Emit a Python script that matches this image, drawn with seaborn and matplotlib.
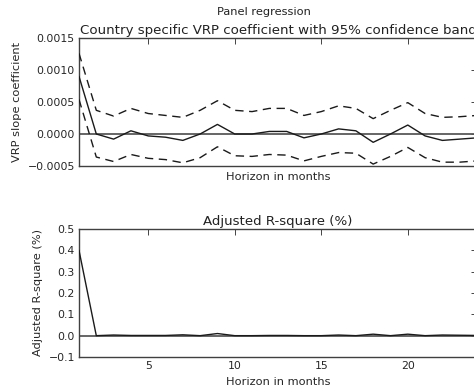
import numpy as np
import pandas as pd
import matplotlib
matplotlib.use("Agg")
import matplotlib.pyplot as plt
import seaborn as sns

horizon = list(range(1, 25))
coef = [0.00090, 0.00000, -0.00008, 0.00005, -0.00003, -0.00005, -0.00010, 0.00000,
        0.00015, 0.00000, 0.00000, 0.00004, 0.00004, -0.00006, 0.00000, 0.00008,
        0.00005, -0.00013, 0.00000, 0.00014, -0.00003, -0.00010, -0.00008, -0.00006]
upper = [0.00126, 0.00037, 0.00028, 0.00040, 0.00032, 0.00029, 0.00026, 0.00037,
         0.00052, 0.00037, 0.00035, 0.00040, 0.00040, 0.00029, 0.00035, 0.00044,
         0.00040, 0.00024, 0.00037, 0.00049, 0.00032, 0.00026, 0.00027, 0.00029]
lower = [0.00054, -0.00036, -0.00043, -0.00032, -0.00038, -0.00040, -0.00045, -0.00037,
         -0.00020, -0.00034, -0.00035, -0.00032, -0.00033, -0.00042, -0.00035, -0.00029,
         -0.00030, -0.00047, -0.00035, -0.00021, -0.00037, -0.00044, -0.00044, -0.00042]
rsq = [0.40, 0.000, 0.003, 0.001, 0.001, 0.001, 0.004, 0.000,
       0.010, 0.000, 0.000, 0.001, 0.001, 0.000, 0.000, 0.003,
       0.000, 0.007, 0.000, 0.007, 0.000, 0.003, 0.002, 0.001]

top_yticks = [-0.0005, 0.0, 0.0005, 0.0010, 0.0015]
top_yticklabels = ["\u22120.0005", "0.0000", "0.0005", "0.0010", "0.0015"]
bot_yticks = [-0.1, 0.0, 0.1, 0.2, 0.3, 0.4, 0.5]
bot_yticklabels = ["\u22120.1", "0.0", "0.1", "0.2", "0.3", "0.4", "0.5"]
xticks = [5, 10, 15, 20]

sns.set_theme(style="white")
plt.rcParams["font.family"] = ["DejaVu Sans"]
plt.rcParams["text.color"] = "#222222"

df = pd.DataFrame({"h": horizon, "coef": coef, "upper": upper, "lower": lower, "rsq": rsq})

fig = plt.figure(figsize=(4.74, 3.92), dpi=100)
W, H = 474.0, 392.0
ax1 = fig.add_axes([79 / W, 1 - 166 / H, (477 - 79) / W, 128 / H])
ax2 = fig.add_axes([79 / W, 1 - 357 / H, (477 - 79) / W, 128 / H])

for ax in (ax1, ax2):
    ax.axhline(0, color="0.35", lw=1.3, zorder=1)

sns.lineplot(data=df, x="h", y="coef", ax=ax1, color="k", lw=1.0, zorder=3)
for col in ("upper", "lower"):
    sns.lineplot(data=df, x="h", y=col, ax=ax1, color="k", lw=1.0, zorder=3)
for line in ax1.lines[-2:]:
    line.set_dashes((6, 4))

sns.lineplot(data=df, x="h", y="rsq", ax=ax2, color="k", lw=1.0, zorder=3)

tick_fs = 7.8
for ax in (ax1, ax2):
    ax.set_xlim(1, 24)
    ax.set_xticks(xticks)
    ax.tick_params(direction="in", top=True, right=True, length=4, width=0.6,
                   labelsize=tick_fs, colors="0.15", pad=3)
    for s in ax.spines.values():
        s.set_color("0.25")
        s.set_linewidth(1.0)
    ax.set_facecolor("white")

ax1.set_ylim(-0.0005, 0.0015)
ax1.set_yticks(top_yticks)
ax1.set_yticklabels(top_yticklabels)
ax1.set_xticklabels([])
ax1.set_xlabel("Horizon in months", fontsize=8.2, labelpad=1)
ax1.set_ylabel("VRP slope coefficient", fontsize=8.2, labelpad=4)
ax1.set_title("Country specific VRP coefficient with 95% confidence band", fontsize=9.6, pad=3)

ax2.set_ylim(-0.1, 0.5)
ax2.set_yticks(bot_yticks)
ax2.set_yticklabels(bot_yticklabels)
ax2.set_xlabel("Horizon in months", fontsize=8.2, labelpad=4)
ax2.set_ylabel("Adjusted R-square (%)", fontsize=8.2, labelpad=4)
ax2.set_title("Adjusted R-square (%)", fontsize=9.6, pad=3)

fig.text(264 / W, 1 - 12 / H, "Panel regression", ha="center", va="center", fontsize=8.2)

fig.savefig("out.png", dpi=100, facecolor="white")
